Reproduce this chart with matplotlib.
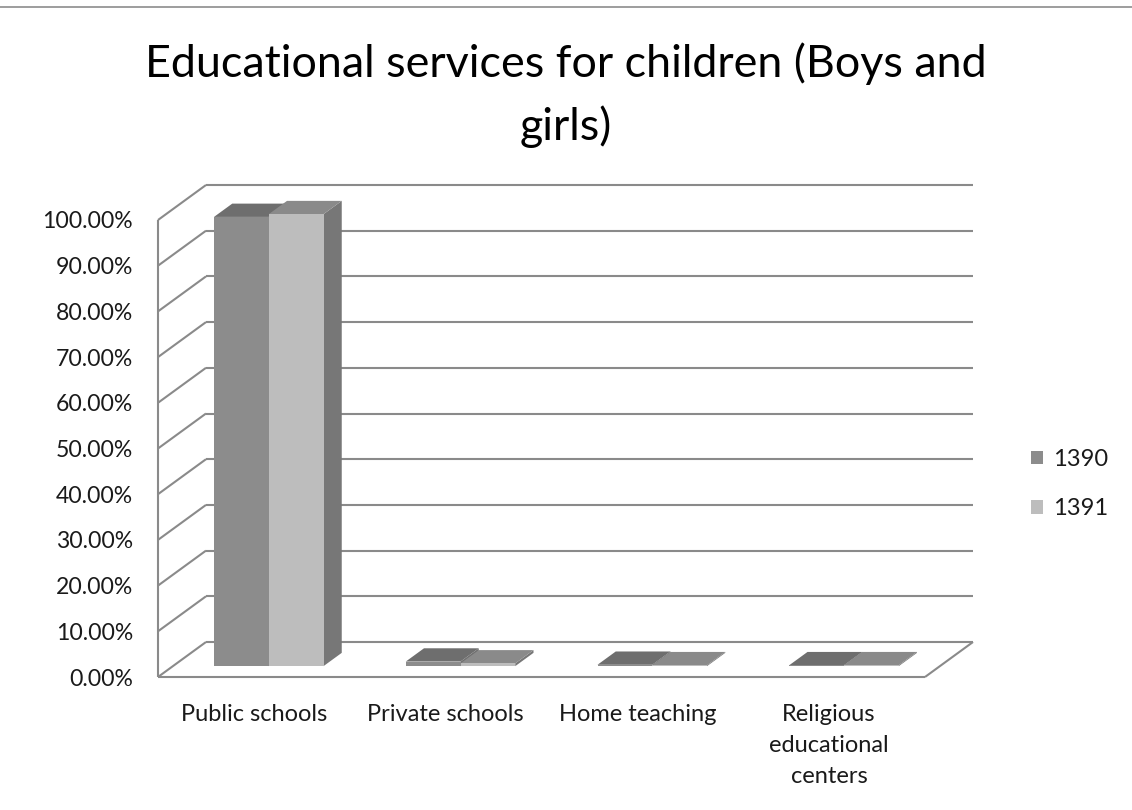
import matplotlib
matplotlib.use("Agg")
import matplotlib.pyplot as plt
from matplotlib.patches import Polygon
from matplotlib.lines import Line2D

# ---- data ----
categories = ["Public schools", "Private schools", "Home teaching",
              "Religious\neducational\ncenters"]
series_names = ["1390", "1391"]
values_1390 = [98.3, 1.0, 0.3, 0.2]
values_1391 = [98.9, 0.6, 0.2, 0.2]
y_ticks = [0, 10, 20, 30, 40, 50, 60, 70, 80, 90, 100]
title = "Educational services for children (Boys and\ngirls)"

# ---- styling ----
FONT = "Lato"
front_colors = ["#8c8c8c", "#bdbdbd"]
top_colors = ["#6e6e6e", "#8a8a8a"]
side_colors = ["#707070", "#777777"]
grid_color = "#8a8a8a"
text_color = "#1a1a1a"

W, H, DPI = 1132, 810, 100
fig = plt.figure(figsize=(W / DPI, H / DPI), dpi=DPI)

# front plane of the 3D box
ax_left, ax_right, ax_bottom, ax_top = 158, 925, 677, 220
ax = fig.add_axes([ax_left / W, 1 - ax_bottom / H,
                   (ax_right - ax_left) / W, (ax_bottom - ax_top) / H])
n = len(categories)
ax.set_xlim(0, n)
ax.set_ylim(0, 100)
for s in ax.spines.values():
    s.set_visible(False)
ax.patch.set_visible(False)

# depth direction in data units (one full depth step)
DX = 48 / ((ax_right - ax_left) / n)
DY = 35 / ((ax_bottom - ax_top) / 100)


def proj(x, y, d):
    return (x + d * DX, y + d * DY)


def seg(p, q, **kw):
    a, b = proj(*p), proj(*q)
    ax.add_line(Line2D([a[0], b[0]], [a[1], b[1]], color=grid_color,
                       lw=1.5, clip_on=False, solid_capstyle="butt", **kw))


# walls: back-wall gridlines and side-wall diagonals
for t in y_ticks:
    seg((0, t, 1), (n, t, 1))
    seg((0, t, 0), (0, t, 1))
# front-left edge and floor outline
seg((0, 0, 0), (0, 100, 0))
seg((0, 0, 0), (n, 0, 0))
seg((n, 0, 0), (n, 0, 1))

# bars
bar_w = 54.75 / ((ax_right - ax_left) / n)
gap = (1 - 2 * bar_w) / 2
d0, d1 = 0.31, 0.69
for i in range(n):
    for s, vals in enumerate([values_1390, values_1391]):
        v = vals[i]
        x0 = i + gap + s * bar_w
        x1 = x0 + bar_w
        side = [proj(x1, 0, d0), proj(x1, v, d0), proj(x1, v, d1), proj(x1, 0, d1)]
        top = [proj(x0, v, d0), proj(x1, v, d0), proj(x1, v, d1), proj(x0, v, d1)]
        front = [proj(x0, 0, d0), proj(x1, 0, d0), proj(x1, v, d0), proj(x0, v, d0)]
        for pts, c in ((side, side_colors[s]), (top, top_colors[s]),
                       (front, front_colors[s])):
            ax.add_patch(Polygon(pts, closed=True, facecolor=c,
                                 edgecolor="none", clip_on=False, zorder=3))

# tick labels
ax.set_yticks(y_ticks)
ax.set_yticklabels([f"{t:.2f}%" for t in y_ticks], fontsize=16.6,
                   family=FONT, color=text_color)
ax.set_xticks([i + 0.5 for i in range(n)])
ax.set_xticklabels(categories, fontsize=17, family=FONT, color=text_color,
                   linespacing=1.6, va="top")
ax.tick_params(axis="y", length=0, pad=18)
ax.tick_params(axis="x", length=0, pad=19.5)

# title
fig.text(0.5, 1 - 95 / H, title, ha="center", va="center", fontsize=32.3,
         family=FONT, color="#000000", linespacing=1.6)

# legend
handles = [Polygon([[0, 0]], facecolor=c, edgecolor="none") for c in front_colors]
leg = fig.legend(handles, series_names, loc="center left",
                 bbox_to_anchor=(1031 / W, 1 - 484 / H), frameon=False,
                 borderaxespad=0, borderpad=0,
                 prop={"family": FONT, "size": 17}, handlelength=0.5,
                 handleheight=0.5, handletextpad=0.42, labelspacing=1.2)
for t in leg.get_texts():
    t.set_color(text_color)

# chart frame
fig.add_artist(Line2D([0, 1], [1 - 7 / H, 1 - 7 / H], color="#8c8c8c",
                      lw=1.2, transform=fig.transFigure))

fig.savefig("out.png", dpi=DPI)
